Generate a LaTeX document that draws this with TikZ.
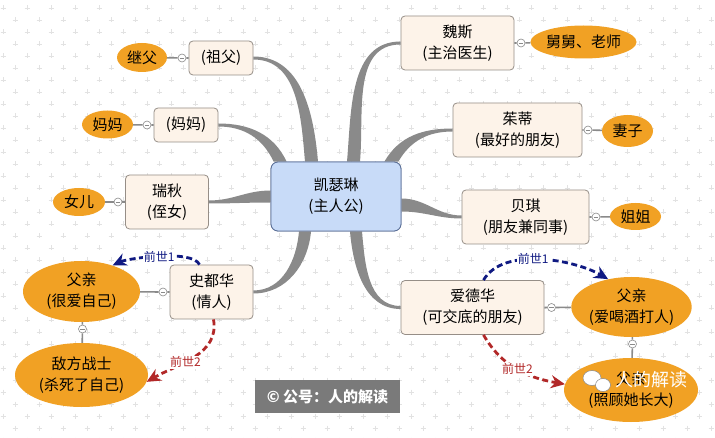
\documentclass[tikz,border=0pt]{standalone}
\usepackage{fontspec}
\newfontfamily\cjk{Noto Sans CJK SC}
\definecolor{mmcream}{RGB}{253,243,233}
\definecolor{mmframe}{RGB}{150,142,135}
\definecolor{mmroot}{RGB}{200,219,248}
\definecolor{mmrootframe}{RGB}{90,110,150}
\definecolor{mmorange}{RGB}{241,161,36}
\definecolor{mmgray}{RGB}{138,138,138}
\definecolor{mmnavy}{RGB}{16,26,130}
\definecolor{mmred}{RGB}{178,40,40}
\definecolor{mmgrid}{RGB}{226,226,226}
\definecolor{mmstamp}{RGB}{122,122,122}
\usetikzlibrary{arrows.meta,shapes.geometric,calc}

\begin{document}
\begin{tikzpicture}[x=1pt,y=1pt,
  font=\cjk\fontsize{15}{21}\selectfont,
  mmbox/.style={draw=mmframe,fill=mmcream,rounded corners=4pt,line width=0.8pt,
    align=center,inner sep=2pt,minimum height=54},
  mmroot/.style={draw=mmrootframe,fill=mmroot,rounded corners=7pt,line width=0.8pt,
    align=center,minimum width=130,minimum height=69},
  mmtag/.style={ellipse,fill=mmorange,inner sep=0pt,align=center},
  mmfold/.style={circle,draw=mmgray,fill=white,line width=0.6pt,minimum size=8,inner sep=0pt,
    path picture={\draw[mmgray,line width=0.6pt]
      ([xshift=-2.2pt]path picture bounding box.center) -- ([xshift=2.2pt]path picture bounding box.center);}},
  mmlink/.style={mmgray,line width=1.6pt},
  mmbranch/.style={fill=mmgray},
  mmpast/.style={-{Stealth[length=14pt,width=13pt]},line width=2.8pt,dash pattern=on 6pt off 3.5pt},
  mmpastlabel/.style={fill=white,inner sep=1pt,font=\cjk\fontsize{12}{14}\selectfont},
  gridplus/.style={mmgrid,line width=0.5pt}
]
  % canvas
  \fill[white] (0,0) rectangle (715,-438);
  \useasboundingbox (0,0) rectangle (715,-438);
  \foreach \r in {0,...,36}{
    \pgfmathsetmacro\gx{mod(\r,2)*12+3}
    \foreach \c in {0,...,30}
      \draw[gridplus] (\gx+24*\c-2.5,-8-12*\r) -- ++(5,0) (\gx+24*\c,-5.5-12*\r) -- ++(0,-5);
  }

  % nodes
  \node[mmroot] (kai) at (336,-196.5) {凯瑟琳\\(主人公)};
  \node[mmbox,minimum width=64,minimum height=34] (zufu) at (221,-58) {(祖父)};
  \node[mmbox,minimum width=64,minimum height=34] (mama) at (186,-125) {(妈妈)};
  \node[mmbox,minimum width=83] (ruiqiu) at (167,-202) {瑞秋\\(侄女)};
  \node[mmbox,minimum width=83] (shiduhua) at (211.5,-292) {史都华\\(情人)};
  \node[mmbox,minimum width=113] (weisi) at (457.5,-43) {魏斯\\(主治医生)};
  \node[mmbox,minimum width=129] (zhudi) at (517.5,-130) {茱蒂\\(最好的朋友)};
  \node[mmbox,minimum width=127] (beiqi) at (525.5,-217) {贝琪\\(朋友兼同事)};
  \node[mmbox,minimum width=143] (aidehua) at (472.5,-307.5) {爱德华\\(可交底的朋友)};

  % branches from the root
  \fill[mmbranch] ([xshift=-31]kai.north) to[out=95,in=0] ([yshift=-1.5]zufu.east)
    -- ([yshift=1.5]zufu.east) to[out=0,in=95] ([xshift=-18]kai.north) -- cycle;
  \fill[mmbranch] ([xshift=3]kai.north west) to[out=115,in=0] ([yshift=-1.5]mama.east)
    -- ([yshift=1.5]mama.east) to[out=0,in=115] ([xshift=16]kai.north west) -- cycle;
  \fill[mmbranch] ([yshift=6]kai.west) to[out=180,in=0] ([yshift=1.5]ruiqiu.east)
    -- ([yshift=-1.5]ruiqiu.east) to[out=0,in=180] ([yshift=-6]kai.west) -- cycle;
  \fill[mmbranch] ([xshift=-37]kai.south) to[out=-95,in=0] ([yshift=1.5]shiduhua.east)
    -- ([yshift=-1.5]shiduhua.east) to[out=0,in=-95] ([xshift=-25]kai.south) -- cycle;
  \fill[mmbranch] ([xshift=11]kai.north) to[out=85,in=180] ([yshift=1.5]weisi.west)
    -- ([yshift=-1.5]weisi.west) to[out=180,in=85] ([xshift=24]kai.north) -- cycle;
  \fill[mmbranch] ([xshift=-17]kai.north east) to[out=60,in=180] ([yshift=1.5]zhudi.west)
    -- ([yshift=-1.5]zhudi.west) to[out=180,in=60] ([xshift=-3]kai.north east) -- cycle;
  \fill[mmbranch] ([yshift=-2]kai.east) to[out=0,in=180] ([yshift=1.5]beiqi.west)
    -- ([yshift=-1.5]beiqi.west) to[out=180,in=0] ([yshift=-15]kai.east) -- cycle;
  \fill[mmbranch] ([xshift=14]kai.south) to[out=-85,in=180] ([yshift=-1.5]aidehua.west)
    -- ([yshift=1.5]aidehua.west) to[out=180,in=-85] ([xshift=26]kai.south) -- cycle;
  \node[mmroot] at (kai) {凯瑟琳\\(主人公)};

  % tags
  \node[mmtag,minimum width=50,minimum height=29] (jifu) at (142,-57.5) {继父};
  \node[mmtag,minimum width=51,minimum height=28] (mamatag) at (107.5,-124.5) {妈妈};
  \node[mmtag,minimum width=52,minimum height=28] (nuer) at (79,-202) {女儿};
  \node[mmtag,minimum width=95,minimum height=33] (jiujiu) at (583.5,-42) {舅舅、老师};
  \node[mmtag,minimum width=51,minimum height=32] (qizi) at (627.5,-131) {妻子};
  \node[mmtag,minimum width=51,minimum height=27] (jiejie) at (635.5,-216.5) {姐姐};
  \node[mmtag,minimum width=117,minimum height=61] (fuqinA) at (81.5,-291.5) {父亲\\(很爱自己)};
  \node[mmtag,minimum width=133,minimum height=64] (difang) at (81.5,-375) {敌方战士\\(杀死了自己)};
  \node[mmtag,minimum width=117,minimum height=60] (fuqinB) at (631.5,-307) {父亲\\(爱喝酒打人)};
  \node[mmtag,minimum width=134,minimum height=64] (fuqinC) at (631,-390) {父亲\\(照顾她长大)};

  % fold marks and links
  \node[mmfold] (f1) at (182,-58) {};
  \node[mmfold] (f2) at (147,-125) {};
  \node[mmfold] (f3) at (118,-202) {};
  \node[mmfold] (f4) at (163,-292) {};
  \node[mmfold] (f5) at (82.5,-329) {};
  \node[mmfold] (f6) at (521,-43) {};
  \node[mmfold] (f7) at (588,-130) {};
  \node[mmfold] (f8) at (596,-217) {};
  \node[mmfold] (f9) at (551.5,-307.5) {};
  \node[mmfold] (f10) at (632.5,-344) {};
  \draw[mmlink] (jifu) -- (f1) -- (zufu);
  \draw[mmlink] (mamatag) -- (f2) -- (mama);
  \draw[mmlink] (nuer) -- (f3) -- (ruiqiu);
  \draw[mmlink] (fuqinA) -- (f4) -- (shiduhua);
  \draw[mmlink] (fuqinA) -- (f5) -- (difang);
  \draw[mmlink] (weisi) -- (f6) -- (jiujiu);
  \draw[mmlink] (zhudi) -- (f7) -- (qizi);
  \draw[mmlink] (beiqi) -- (f8) -- (jiejie);
  \draw[mmlink] (aidehua) -- (f9) -- (fuqinB);
  \draw[mmlink] (fuqinB) -- (f10) -- (fuqinC);

  % past lives
  \draw[mmpast,mmnavy] ([xshift=-12]shiduhua.north) to[out=115,in=25,looseness=0.5]
    node[mmpastlabel,text=mmnavy] {前世1} (fuqinA.40);
  \draw[mmpast,mmred] ([xshift=2]shiduhua.south) to[out=-80,in=30]
    node[mmpastlabel,text=mmred,pos=0.6] {前世2} (difang.-6);
  \draw[mmpast,mmnavy] ([xshift=11]aidehua.north) to[out=60,in=150,looseness=0.8]
    node[mmpastlabel,text=mmnavy,pos=0.45] {前世1} (fuqinB.130);
  \draw[mmpast,mmred] ([xshift=11]aidehua.south) to[out=-60,in=170]
    node[mmpastlabel,text=mmred] {前世2} (fuqinC.175);

  % stamp and watermark
  \node[fill=mmstamp,text=white,font=\cjk\bfseries\fontsize{15}{18}\selectfont,
    minimum width=145,minimum height=33] (stamp) at (327.5,-396.5) {© 公号：人的解读};
  \fill[white,draw=mmgray,line width=0.5pt] (592,-378) ellipse (9 and 7.5);
  \fill[white,draw=mmgray,line width=0.5pt] (603,-385) ellipse (7.5 and 6.5);
  \node[text=white,font=\cjk\fontsize{18}{20}\selectfont] (wmark) at (651,-380) {人的解读};
\end{tikzpicture}
\end{document}
